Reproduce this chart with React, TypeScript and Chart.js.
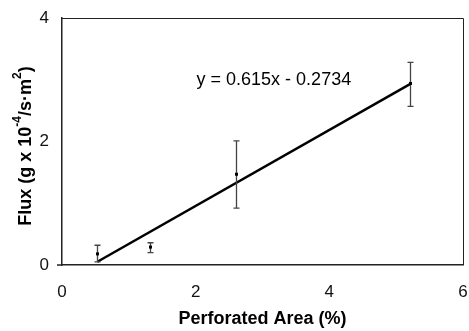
import { useEffect, useRef } from "react";
import { Chart, registerables } from "chart.js";

Chart.register(...registerables);

const areaPct = [0.53, 1.31, 2.61, 5.2];
const fluxMean = [0.18, 0.29, 1.47, 2.94];
const fluxLow = [0.05, 0.2, 0.92, 2.57];
const fluxHigh = [0.32, 0.36, 2.01, 3.28];
const trendX = [0.53, 5.2];
const trendY = [0.053, 2.925];
const xTickValues = [0, 2, 4, 6];
const yTickValues = [0, 2, 4];
const equationLabel = "y = 0.615x - 0.2734";
const xAxisTitle = "Perforated Area (%)";
const yTitleParts = [
  { text: "Flux (g x 10", sup: false },
  { text: "-4", sup: true },
  { text: "/s\u00B7m", sup: false },
  { text: "2", sup: true },
  { text: ")", sup: false },
];

const FONT = "Arial, 'Liberation Sans', sans-serif";

const extrasPlugin = {
  id: "extras",
  afterDatasetsDraw(chart: any) {
    const { ctx, chartArea, scales } = chart;
    const xs = scales.x;
    const ys = scales.y;
    ctx.save();
    // frame top/right
    ctx.strokeStyle = "#222";
    ctx.lineWidth = 1;
    ctx.beginPath();
    ctx.moveTo(chartArea.left, chartArea.top + 0.5);
    ctx.lineTo(chartArea.right + 0.5, chartArea.top + 0.5);
    ctx.lineTo(chartArea.right + 0.5, chartArea.bottom);
    ctx.stroke();
    // small extension of the x axis line to the left
    ctx.lineWidth = 1.5;
    ctx.beginPath();
    ctx.moveTo(chartArea.left - 5, chartArea.bottom);
    ctx.lineTo(chartArea.left, chartArea.bottom);
    ctx.stroke();

    // error bars
    ctx.strokeStyle = "#444";
    ctx.lineWidth = 1.3;
    for (let i = 0; i < areaPct.length; i++) {
      const px = Math.round(xs.getPixelForValue(areaPct[i])) + 0.5;
      const pLo = ys.getPixelForValue(fluxLow[i]);
      const pHi = ys.getPixelForValue(fluxHigh[i]);
      ctx.beginPath();
      ctx.moveTo(px, pLo);
      ctx.lineTo(px, pHi);
      ctx.moveTo(px - 3, pLo);
      ctx.lineTo(px + 3, pLo);
      ctx.moveTo(px - 3, pHi);
      ctx.lineTo(px + 3, pHi);
      ctx.stroke();
      const py = ys.getPixelForValue(fluxMean[i]);
      ctx.fillStyle = "#000";
      ctx.fillRect(px - 1.5, py - 1.5, 3, 3);
    }

    // equation
    ctx.fillStyle = "#000";
    ctx.font = `18px ${FONT}`;
    ctx.textAlign = "center";
    ctx.textBaseline = "middle";
    ctx.fillText(equationLabel, xs.getPixelForValue(3.17), ys.getPixelForValue(3.0));

    // y title with superscripts
    const mainFont = `bold 18px ${FONT}`;
    const supFont = `bold 12px ${FONT}`;
    let total = 0;
    for (const p of yTitleParts) {
      ctx.font = p.sup ? supFont : mainFont;
      total += ctx.measureText(p.text).width;
    }
    ctx.translate(26, 146);
    ctx.rotate(-Math.PI / 2);
    ctx.textAlign = "left";
    ctx.textBaseline = "middle";
    let cx = -total / 2;
    for (const p of yTitleParts) {
      ctx.font = p.sup ? supFont : mainFont;
      ctx.fillText(p.text, cx, p.sup ? -8 : 0);
      cx += ctx.measureText(p.text).width;
    }
    ctx.restore();
  },
};

export default function App() {
  const ref = useRef<HTMLCanvasElement>(null);
  useEffect(() => {
    if (!ref.current) return;
    const chart = new Chart(ref.current, {
      type: "scatter",
      data: {
        datasets: [
          {
            type: "line",
            data: trendX.map((x, i) => ({ x, y: trendY[i] })),
            borderColor: "#000",
            borderWidth: 2.5,
            pointRadius: 0,
            fill: false,
          } as any,
        ],
      },
      options: {
        responsive: false,
        animation: false,
        layout: { padding: { top: 18, right: 6, left: 0, bottom: 0 } },
        plugins: { legend: { display: false }, tooltip: { enabled: false } },
        scales: {
          x: {
            type: "linear",
            min: 0,
            max: 6,
            afterBuildTicks: (s: any) => {
              s.ticks = xTickValues.map((v) => ({ value: v }));
            },
            afterFit: (s: any) => {
              s.height = 66;
            },
            grid: { display: false, drawTicks: true, tickLength: 17 },
            border: { display: true, color: "#222", width: 1.5 },
            ticks: {
              padding: 0,
              color: "#111",
              font: { size: 17, family: FONT },
            },
            title: {
              display: true,
              text: xAxisTitle,
              color: "#000",
              font: { size: 18, weight: "bold", family: FONT },
              padding: { top: 0, bottom: 1 },
            },
          },
          y: {
            type: "linear",
            min: 0,
            max: 4,
            afterBuildTicks: (s: any) => {
              s.ticks = yTickValues.map((v) => ({ value: v }));
            },
            afterFit: (s: any) => {
              s.width = 62;
            },
            grid: { display: false, drawTicks: true, tickLength: 13 },
            border: { display: true, color: "#222", width: 1.5 },
            ticks: {
              padding: 0,
              color: "#111",
              font: { size: 17, family: FONT },
            },
          },
        },
      } as any,
      plugins: [extrasPlugin],
    });
    return () => chart.destroy();
  }, []);
  return (
    <div style={{ position: "absolute", left: 0, top: 0, width: 469, height: 331, background: "#fff" }}>
      <canvas ref={ref} width={469} height={331} />
    </div>
  );
}
